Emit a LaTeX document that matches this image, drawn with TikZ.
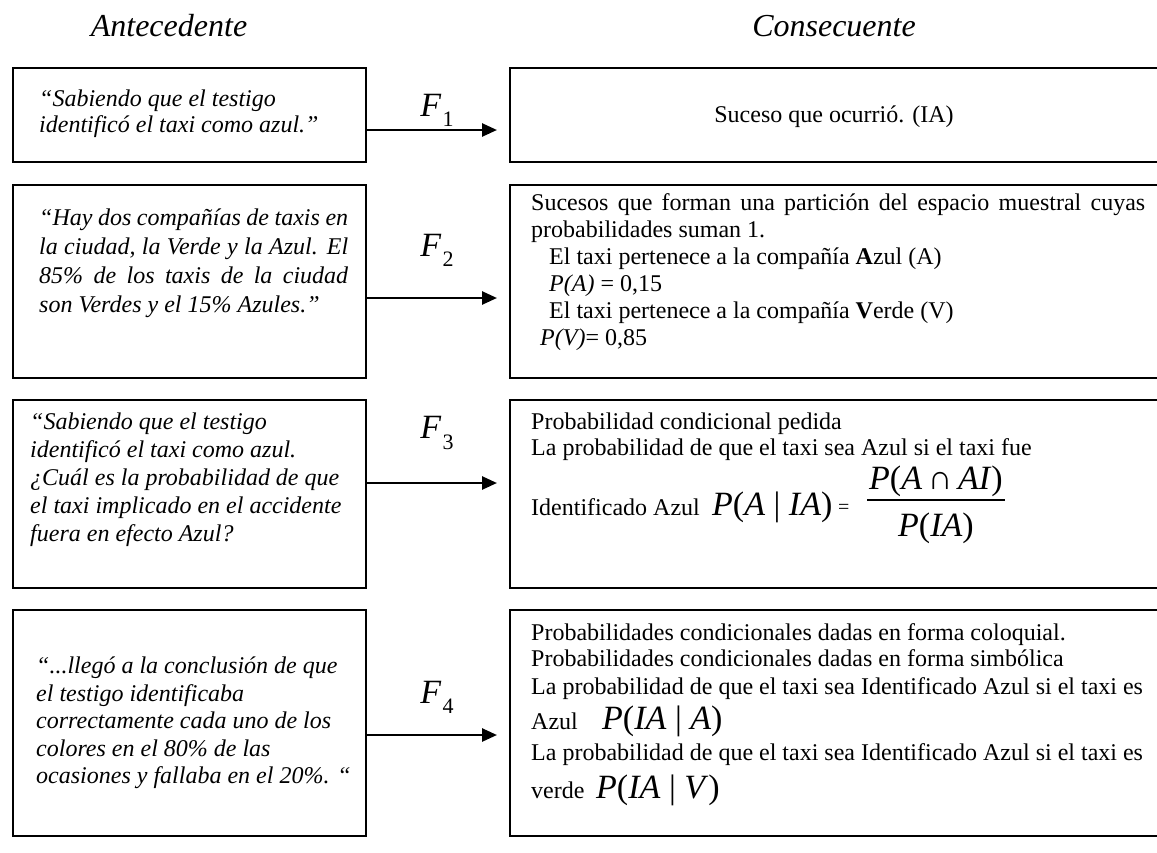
\documentclass[tikz,border=0pt]{standalone}
\usepackage{fontspec}
\setmainfont{Liberation Serif}
\usetikzlibrary{arrows.meta,positioning}
\newcommand{\Fsub}[1]{\textit{F}\kern1pt\raisebox{-0.3em}{\fontsize{22}{24}\selectfont #1}}
\newcommand{\jline}[2]{\makebox[#1pt][s]{#2}}

\begin{document}
\begin{tikzpicture}[x=1pt,y=-1pt,
  caja/.style={draw,line width=1.7pt,inner sep=0pt,anchor=north west},
  ltxt/.style={anchor=base west,inner sep=0pt,font=\fontsize{24}{28}\selectfont\itshape},
  rtxt/.style={anchor=base west,inner sep=0pt,font=\fontsize{24}{28}\selectfont},
  form/.style={anchor=base west,inner sep=0pt,font=\fontsize{34}{40}\selectfont},
  titulo/.style={font=\fontsize{32}{36}\selectfont\itshape},
  etiqueta/.style={font=\fontsize{34}{40}\selectfont},
  flecha/.style={line width=2.6pt,-{Triangle[length=15pt,width=13pt]},shorten >=12pt}]
  \useasboundingbox (0,0) rectangle (1157,852); \clip (0,0) rectangle (1157,852);
  \node[titulo] (antec) at (169,26) {Antecedente}; \node[titulo] (consec) at (834,26) {Consecuente};
  \foreach \n/\ya/\h in {1/67/94,2/184/193,3/399/188,4/609/226}{
    \node[caja,minimum width=353pt,minimum height=\h pt] (ante\n) at (12,\ya) {};
    \node[caja,minimum width=670pt,minimum height=\h pt] (cons\n) at (509,\ya) {};}
  \foreach \n/\yf/\ye in {1/130/110,2/298/250,3/483/433,4/735/697}{
    \coordinate (s\n) at (0,\yf); \draw[flecha] (ante\n.east |- s\n) -- (cons\n.west |- s\n);
    \node[etiqueta] (f\n) at (437,\ye) {\Fsub{\n}};}
  % antecedentes
  \node[ltxt] (a1a) at (39,106) {“Sabiendo que el testigo}; \node[ltxt] (a1b) at (39,132) {identificó el taxi como azul.”};
  \node[ltxt] (a2a) at (39,225) {\jline{309}{“Hay dos compañías de taxis en}};
  \node[ltxt] (a2b) at (39,254) {\jline{309}{la ciudad, la Verde y la Azul. El}};
  \node[ltxt] (a2c) at (39,283) {\jline{309}{85\% de los taxis de la ciudad}};
  \node[ltxt] (a2d) at (39,312) {son Verdes y el 15\% Azules.”};
  \foreach \t [count=\i] in {“Sabiendo que el testigo,identificó el taxi como azul.,¿Cuál es la probabilidad de que,el taxi implicado en el accidente,fuera en efecto Azul?}
    \node[ltxt] (a3\i) at (30,401+28*\i) {\t};
  \node[ltxt] (a41) at (36,673) {“...llegó a la conclusión de que};
  \node[ltxt] (a42) at (36,701) {el testigo identificaba};
  \node[ltxt] (a43) at (36,728) {correctamente cada uno de los};
  \node[ltxt] (a44) at (36,756) {colores en el 80\% de las};
  \node[ltxt] (a45) at (36,783) {ocasiones y fallaba en el 20\%. “};
  % consecuentes
  \node[rtxt,anchor=base] (c1) at (834,122) {Suceso que ocurrió. (IA)};
  \node[rtxt] (c2a) at (531,210) {\jline{614}{Sucesos que forman una partición del espacio muestral cuyas}};
  \node[rtxt] (c2b) at (531,237) {probabilidades suman 1.};
  \node[rtxt] (c2c) at (549,264) {El taxi pertenece a la compañía \textbf{A}zul (A)};
  \node[rtxt] (c2d) at (549,291) {\textit{P(A)} = 0,15};
  \node[rtxt] (c2e) at (549,318) {El taxi pertenece a la compañía \textbf{V}erde (V)};
  \node[rtxt] (c2f) at (540,345) {\textit{P(V)}= 0,85};
  \node[rtxt] (c3a) at (531,429) {Probabilidad condicional pedida};
  \node[rtxt] (c3b) at (531,455) {La probabilidad de que el taxi sea Azul si el taxi fue};
  \node[rtxt] (c3c) at (531,515) {Identificado Azul};
  \node[form] (c3d) at (712,515) {\textit{P}(\textit{A} | \textit{IA})};
  \node[rtxt,font=\fontsize{20}{24}\selectfont] (c3e) at (838,513) {=};
  \node[form,anchor=base] (num) at (936,489) {\textit{P}(\textit{A}\,∩\,\textit{AI})};
  \node[form,anchor=base] (den) at (936,536) {\textit{P}(\textit{IA})};
  \draw[line width=1.3pt] (867,500) -- (1005,500);
  \node[rtxt] (c4a) at (531,640) {Probabilidades condicionales dadas en forma coloquial.};
  \node[rtxt] (c4b) at (531,666) {Probabilidades condicionales dadas en forma simbólica};
  \node[rtxt] (c4c) at (531,694) {La probabilidad de que el taxi sea Identificado Azul si el taxi es};
  \node[rtxt] (c4d) at (531,729) {Azul}; \node[form] (c4e) at (602,729) {\textit{P}(\textit{IA} | \textit{A})};
  \node[rtxt] (c4f) at (531,760) {La probabilidad de que el taxi sea Identificado Azul si el taxi es};
  \node[rtxt] (c4g) at (531,798) {verde}; \node[form] (c4h) at (596,798) {\textit{P}(\textit{IA} | \textit{V})};
\end{tikzpicture}
\end{document}
